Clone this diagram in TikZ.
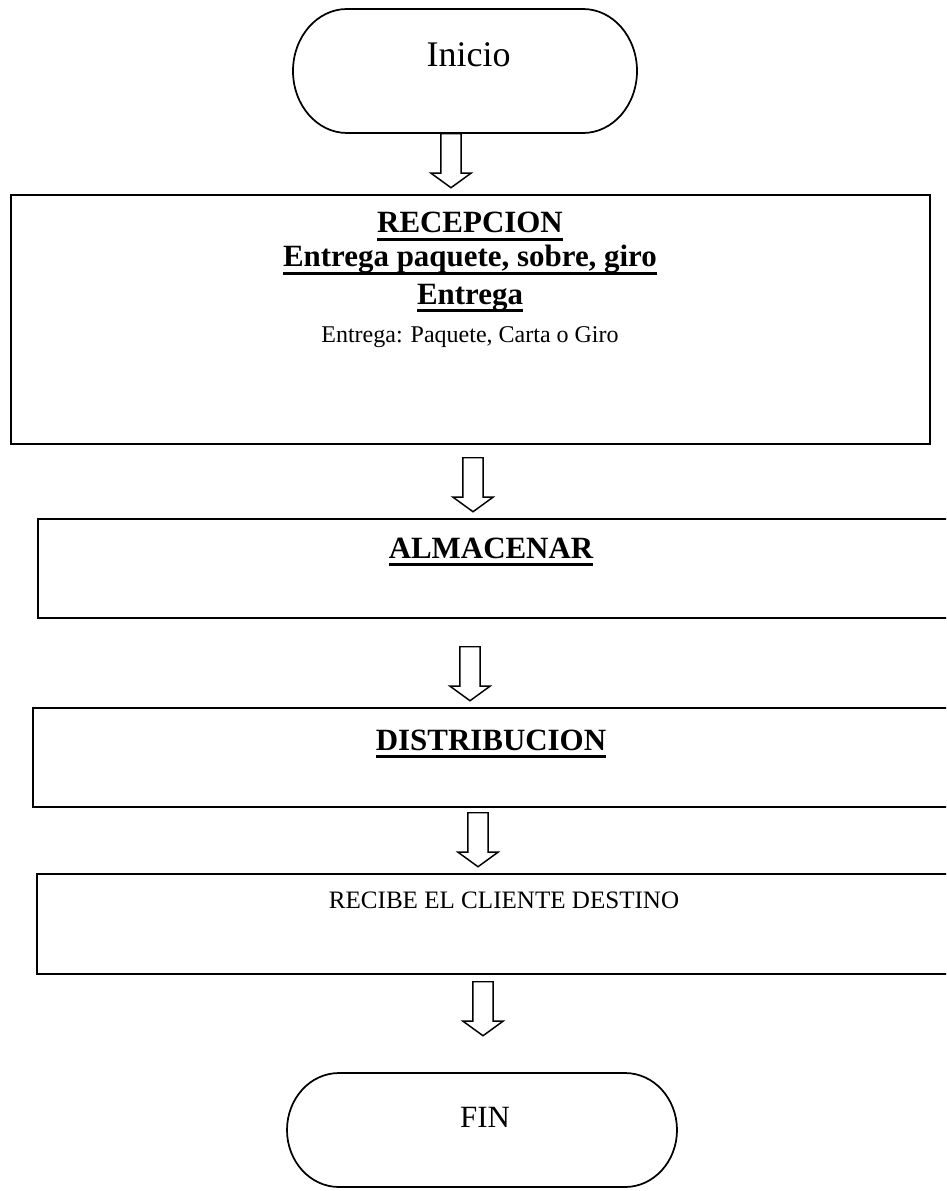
\documentclass[tikz,border=0pt]{standalone}
\usepackage{fontspec}
\setmainfont{Liberation Serif}
\usetikzlibrary{shapes.arrows}

\newcommand{\subrayado}[1]{\setbox0=\hbox{#1}\rlap{\rule[-6pt]{\wd0}{2pt}}\box0}
\newcommand{\fuenteGrande}{\fontsize{27}{33}\selectfont}
\newcommand{\fuenteTitulo}{\fontsize{23.2}{28}\selectfont\bfseries}
\newcommand{\fuenteChica}{\fontsize{18}{22}\selectfont}
\newcommand{\fuenteMedia}{\fontsize{18.8}{23}\selectfont}

\begin{document}
\begin{tikzpicture}[x=0.75pt,y=-0.75pt,
   borde/.style={line width=1.3pt},
   caja/.style={borde,draw,anchor=north west,inner sep=0pt},
   flecha/.style={draw,line width=1.1pt,single arrow,shape border rotate=270,
      anchor=tail,inner sep=7.1pt,minimum height=40.5pt,
      single arrow head extend=7.5pt,single arrow tip angle=108},
   texto/.style={anchor=base,inner sep=0pt}]
         \clip (0,0) rectangle (946,1191) ;
         % inicio
         \node[texto,font=\fuenteGrande] (inicio) at (468.5,67) {Inicio} ;
         \draw[borde] (347,9) -- (583,9) arc[start angle=90,end angle=-90,x radius=40.5pt,y radius=46.5pt]
            -- (347,133) arc[start angle=270,end angle=90,x radius=40.5pt,y radius=46.5pt] -- cycle ;
         \node[flecha] (f1) at (451,133) {} ;
         % recepcion
         \node[caja,minimum width=689.25pt,minimum height=186.75pt] (recepcion) at (10,194) {} ;
         \node[texto,font=\fuenteTitulo] (rec1) at (470,233) {\subrayado{RECEPCION}} ;
         \node[texto,font=\fuenteTitulo] (rec2) at (470,267) {\subrayado{Entrega paquete, sobre, giro}} ;
         \node[texto,font=\fuenteTitulo] (rec3) at (470,304) {\subrayado{Entrega}} ;
         \node[texto,font=\fuenteChica] (rec4) at (470,342) {Entrega: Paquete, Carta o Giro} ;
         \node[flecha] (f2) at (473,457) {} ;
         % almacenar
         \node[caja,minimum width=692.25pt,minimum height=74.25pt] (almacenar) at (37,518) {} ;
         \node[texto,font=\fuenteTitulo] (alm) at (491,558) {\subrayado{ALMACENAR}} ;
         \node[flecha] (f3) at (470,646) {} ;
         % distribucion
         \node[caja,minimum width=696pt,minimum height=74.25pt] (distribucion) at (32,707) {} ;
         \node[texto,font=\fuenteTitulo] (dis) at (491,750) {\subrayado{DISTRIBUCION}} ;
         \node[flecha] (f4) at (478,812) {} ;
         % cliente
         \node[caja,minimum width=693pt,minimum height=75pt] (cliente) at (36,873) {} ;
         \node[texto,font=\fuenteMedia] (rcb) at (504,908) {RECIBE EL CLIENTE DESTINO} ;
         \node[flecha] (f5) at (483,981) {} ;
         % fin
         \node[texto,font=\fuenteTitulo\mdseries] (fin) at (485,1127) {FIN} ;
         \draw[borde] (339,1073) -- (625,1073) arc[start angle=90,end angle=-90,x radius=39pt,y radius=42.75pt]
            -- (339,1187) arc[start angle=270,end angle=90,x radius=39pt,y radius=42.75pt] -- cycle ;
      \end{tikzpicture}
\end{document}
